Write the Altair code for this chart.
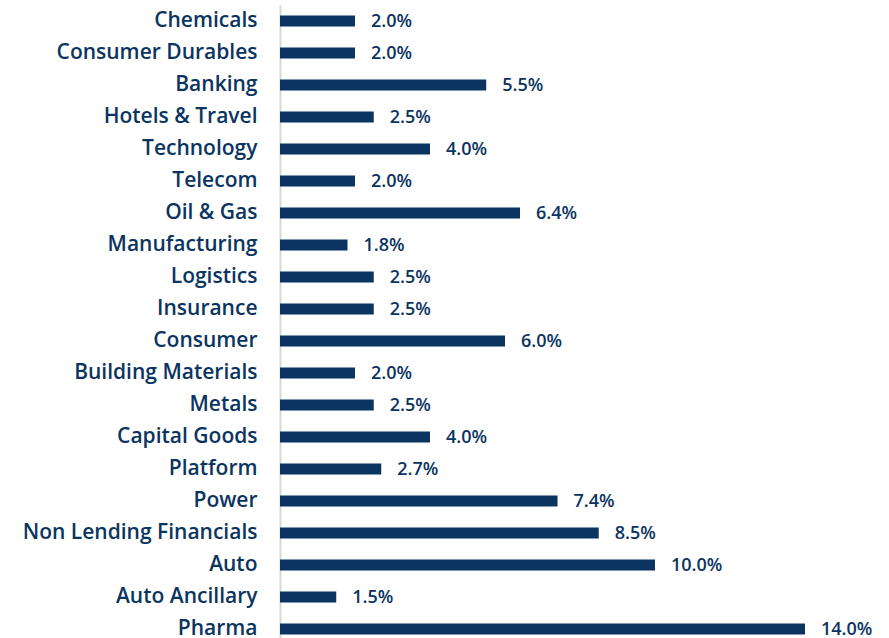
import altair as alt
import pandas as pd

categories = ["Chemicals", "Consumer Durables", "Banking", "Hotels & Travel", "Technology",
              "Telecom", "Oil & Gas", "Manufacturing", "Logistics", "Insurance", "Consumer",
              "Building Materials", "Metals", "Capital Goods", "Platform ", "Power",
              "Non Lending Financials", "Auto", "Auto Ancillary", "Pharma"]
values = [2.0, 2.0, 5.5, 2.5, 4.0, 2.0, 6.4, 1.8, 2.5, 2.5, 6.0, 2.0, 2.5, 4.0, 2.7, 7.4,
          8.5, 10.0, 1.5, 14.0]

df = pd.DataFrame({"cat": categories, "val": values})
df["label"] = [f"{v:.1f}%" for v in values]

navy = "#0b3560"

y_enc = alt.Y("cat:N", sort=categories,
              scale=alt.Scale(paddingInner=0.65, paddingOuter=0.325),
              axis=alt.Axis(title=None, ticks=False, labelFont="Open Sans", labelFontWeight=600,
                            labelFontSize=21, labelColor=navy, labelPadding=23,
                            domainColor="#d9d9d9", domainWidth=2, labelLimit=300))
x_enc = alt.X("val:Q", scale=alt.Scale(domain=[0, 14], nice=False), axis=None)

bars = alt.Chart(df).mark_bar(color=navy, cornerRadius=0).encode(y=y_enc, x=x_enc)
text = alt.Chart(df).mark_text(align="left", baseline="middle", dx=16, dy=1,
                               font="Open Sans", fontWeight=600, fontSize=18,
                               color=navy).encode(y=y_enc, x=x_enc, text="label:N")

chart = (bars + text).properties(
    width=525, height=640,
    autosize=alt.AutoSizeParams(type="none"),
    padding={"left": 280, "top": 5, "right": 84, "bottom": 0},
).configure_view(stroke=None)

chart.save("out.html", embed_options={"renderer": "svg", "actions": False})
